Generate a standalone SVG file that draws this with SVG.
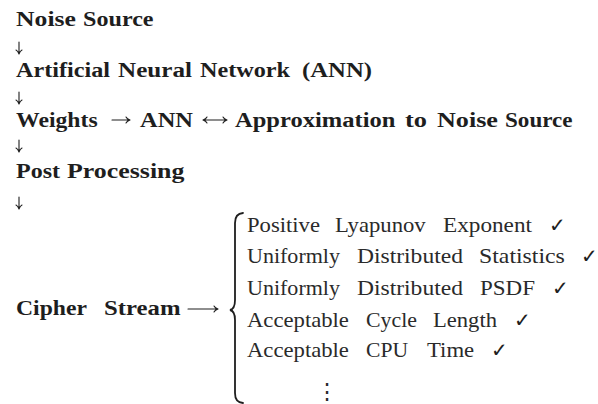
<svg xmlns="http://www.w3.org/2000/svg" width="598" height="404" viewBox="0 0 598 404">
  <style>
    .b { font-weight: 700; font-size: 21px; fill: #1e1e1e; }
    .r { font-weight: 400; font-size: 21px; fill: #2a2a2a; }
    .ck { font-size: 20px; fill: #1e1e1e; }
    .dots { font-size: 22px; fill: #2a2a2a; }
    .arr { fill: none; stroke: #1e1e1e; stroke-width: 1.1; stroke-linecap: round; stroke-linejoin: round; }
    .brace { fill: none; stroke: #1e1e1e; stroke-width: 1.8; stroke-linecap: round; }
  </style>

  <!-- nodes: each word is placed and widened to an extended bold/roman look -->
  <g id="noise-source">
    <text class="b" font-family="Liberation Serif" transform="translate(16 26) scale(1.224 1)">Noise</text>
    <text class="b" font-family="Liberation Serif" transform="translate(83 26) scale(1.149 1)">Source</text>
  </g>

  <g id="ann">
    <text class="b" font-family="Liberation Serif" transform="translate(16 77) scale(1.152 1)">Artificial</text>
    <text class="b" font-family="Liberation Serif" transform="translate(118 77) scale(1.197 1)">Neural</text>
    <text class="b" font-family="Liberation Serif" transform="translate(200 77) scale(1.152 1)">Network</text>
    <text class="b" font-family="Liberation Serif" transform="translate(302 77) scale(1.177 1)">(ANN)</text>
  </g>

  <g id="weights">
    <text class="b" font-family="Liberation Serif" transform="translate(16 127) scale(1.129 1)">Weights</text>
  </g>
  <g id="ann-core">
    <text class="b" font-family="Liberation Serif" transform="translate(140 127) scale(1.165 1)">ANN</text>
  </g>
  <g id="approximation">
    <text class="b" font-family="Liberation Serif" transform="translate(235 127) scale(1.169 1)">Approximation</text>
    <text class="b" font-family="Liberation Serif" transform="translate(405 127) scale(1.257 1)">to</text>
    <text class="b" font-family="Liberation Serif" transform="translate(437 127) scale(1.245 1)">Noise</text>
    <text class="b" font-family="Liberation Serif" transform="translate(505 127) scale(1.100 1)">Source</text>
  </g>

  <g id="post-processing">
    <text class="b" font-family="Liberation Serif" transform="translate(16 178) scale(1.143 1)">Post</text>
    <text class="b" font-family="Liberation Serif" transform="translate(67 178) scale(1.233 1)">Processing</text>
  </g>

  <g id="cipher-stream">
    <text class="b" font-family="Liberation Serif" transform="translate(16 315) scale(1.127 1)">Cipher</text>
    <text class="b" font-family="Liberation Serif" transform="translate(104 315) scale(1.179 1)">Stream</text>
  </g>

  <g id="properties">
    <path class="brace" d="M 243 213 Q 235 213.5 235 223 L 235 300 Q 235 309 230 310 Q 235 311 235 320 L 235 393 Q 235 402.5 243 403"/>
    <text class="r" font-family="Liberation Serif" transform="translate(247 232) scale(1.078 1)">Positive</text>
    <text class="r" font-family="Liberation Serif" transform="translate(335 232) scale(1.080 1)">Lyapunov</text>
    <text class="r" font-family="Liberation Serif" transform="translate(443 232) scale(1.106 1)">Exponent</text>
    <text class="ck" font-family="DejaVu Sans" x="549" y="232">✓</text>

    <text class="r" font-family="Liberation Serif" transform="translate(247 263) scale(1.049 1)">Uniformly</text>
    <text class="r" font-family="Liberation Serif" transform="translate(357 263) scale(1.122 1)">Distributed</text>
    <text class="r" font-family="Liberation Serif" transform="translate(479 263) scale(1.133 1)">Statistics</text>
    <text class="ck" font-family="DejaVu Sans" x="581" y="263">✓</text>

    <text class="r" font-family="Liberation Serif" transform="translate(247 295) scale(1.049 1)">Uniformly</text>
    <text class="r" font-family="Liberation Serif" transform="translate(357 295) scale(1.122 1)">Distributed</text>
    <text class="r" font-family="Liberation Serif" transform="translate(480 295) scale(1.096 1)">PSDF</text>
    <text class="ck" font-family="DejaVu Sans" x="552" y="295">✓</text>

    <text class="r" font-family="Liberation Serif" transform="translate(247 327) scale(1.080 1)">Acceptable</text>
    <text class="r" font-family="Liberation Serif" transform="translate(366 327) scale(1.041 1)">Cycle</text>
    <text class="r" font-family="Liberation Serif" transform="translate(433 327) scale(1.076 1)">Length</text>
    <text class="ck" font-family="DejaVu Sans" x="514" y="327">✓</text>

    <text class="r" font-family="Liberation Serif" transform="translate(247 357) scale(1.080 1)">Acceptable</text>
    <text class="r" font-family="Liberation Serif" transform="translate(366 357) scale(1.029 1)">CPU</text>
    <text class="r" font-family="Liberation Serif" transform="translate(427 357) scale(1.083 1)">Time</text>
    <text class="ck" font-family="DejaVu Sans" x="491" y="357">✓</text>

    <text class="dots" font-family="DejaVu Serif" x="327" y="399" text-anchor="middle">⋮</text>
  </g>

  <!-- connectors -->
  <g id="connectors">
    <!-- down arrows between stages -->
    <path class="arr" d="M 19 42 L 19 54 M 16 50 Q 18 51 19 54 Q 20 51 22 50"/>
    <path class="arr" d="M 19 92 L 19 104 M 16 100 Q 18 101 19 104 Q 20 101 22 100"/>
    <path class="arr" d="M 19 140 L 19 152 M 16 148 Q 18 149 19 152 Q 20 149 22 148"/>
    <path class="arr" d="M 19 197 L 19 209 M 16 205 Q 18 206 19 209 Q 20 206 22 205"/>
    <!-- Weights to ANN -->
    <path class="arr" d="M 112 120 L 130 120 M 126 117 Q 127 119 130 120 Q 127 121 126 123"/>
    <!-- ANN and approximation, both ways -->
    <path class="arr" d="M 203 120 L 227 120 M 223 117 Q 224 119 227 120 Q 224 121 223 123 M 207 117 Q 206 119 203 120 Q 206 121 207 123"/>
    <!-- cipher stream to its properties -->
    <path class="arr" d="M 188 309 L 218 309 M 214 306 Q 215 308 218 309 Q 215 310 214 312"/>
  </g>
</svg>
